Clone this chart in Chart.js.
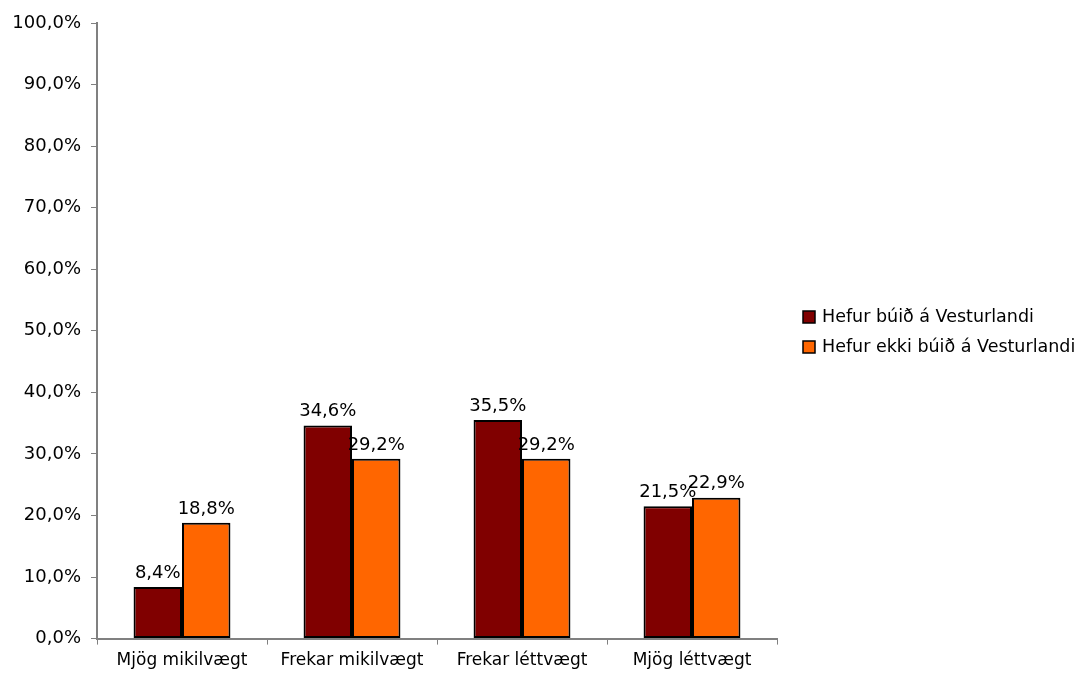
<!DOCTYPE html>
<html>
<head>
<meta charset="utf-8">
<script src="https://cdn.jsdelivr.net/npm/chart.js@4"></script>
<style>
  html, body { margin: 0; padding: 0; background: #fff; }
  #wrap { width: 1082px; height: 680px; }
</style>
</head>
<body>
<div id="wrap"><canvas id="myChart"></canvas></div>
<script>
const categories = ['Mjög mikilvægt', 'Frekar mikilvægt', 'Frekar léttvægt', 'Mjög léttvægt'];
const seriesNames = ['Hefur búið á Vesturlandi', 'Hefur ekki búið á Vesturlandi'];
const hefurBuid = [8.4, 34.6, 35.5, 21.5];
const hefurEkkiBuid = [18.8, 29.2, 29.2, 22.9];
const colors = ['#800000', '#FF6600'];

const FONT = 'Verdana, "DejaVu Sans", sans-serif';
Chart.defaults.font.family = FONT;
Chart.defaults.font.size = 17;
Chart.defaults.color = '#000';

const fmt = v => v.toFixed(1).replace('.', ',') + '%';

// labels above bars
const barLabels = {
    id: 'barLabels',
    afterDatasetsDraw(chart) {
        const c = chart.ctx;
        c.save();
        c.font = '18px ' + FONT;
        c.fillStyle = '#000';
        c.textAlign = 'center';
        c.textBaseline = 'bottom';
        chart.data.datasets.forEach((ds, i) => {
            chart.getDatasetMeta(i).data.forEach((bar, j) => {
                c.fillText(fmt(ds.data[j]), bar.x, bar.y - 5);
            });
        });
        c.restore();
    }
};

// legend on the right, drawn by hand so the plot area keeps its size
const sideLegend = {
    id: 'sideLegend',
    afterDraw(chart) {
        const c = chart.ctx;
        const x = chart.chartArea.right + 26;
        const y0 = 317;
        c.save();
        c.font = '17.5px ' + FONT;
        c.textBaseline = 'middle';
        chart.data.datasets.forEach((ds, i) => {
            const y = y0 + i * 30;
            c.fillStyle = ds.backgroundColor;
            c.fillRect(x, y - 6, 12, 12);
            c.strokeStyle = '#000';
            c.lineWidth = 1.5;
            c.strokeRect(x, y - 6, 12, 12);
            c.fillStyle = '#000';
            c.fillText(ds.label, x + 19, y);
        });
        c.restore();
    }
};

const ctx = document.getElementById('myChart').getContext('2d');
const myChart = new Chart(ctx, {
    type: 'bar',
    data: {
        labels: categories,
        datasets: [{
            label: seriesNames[0],
            data: hefurBuid,
            backgroundColor: colors[0],
            borderColor: '#000',
            borderWidth: 2,
            borderSkipped: false
        }, {
            label: seriesNames[1],
            data: hefurEkkiBuid,
            backgroundColor: colors[1],
            borderColor: '#000',
            borderWidth: 2,
            borderSkipped: false
        }]
    },
    options: {
        responsive: true,
        maintainAspectRatio: false,
        animation: false,
        layout: { padding: { top: 23, left: 0, right: 305, bottom: 3 } },
        datasets: { bar: { barPercentage: 1.0, categoryPercentage: 0.57 } },
        scales: {
            x: {
                grid: { drawOnChartArea: false, drawTicks: true, tickLength: 6, color: '#808080', offset: true },
                border: { color: '#808080', width: 2 },
                ticks: { padding: 6, font: { size: 17 } }
            },
            y: {
                min: 0,
                max: 100,
                afterFit(scale) { scale.width = 97; },
                grid: { drawOnChartArea: false, drawTicks: true, tickLength: 6, color: '#808080' },
                border: { color: '#808080', width: 2 },
                ticks: { stepSize: 10, padding: 10, callback: v => fmt(v), font: { size: 18 } }
            }
        },
        plugins: {
            legend: { display: false },
            tooltip: { enabled: false }
        }
    },
    plugins: [barLabels, sideLegend]
});
</script>
</body>
</html>
